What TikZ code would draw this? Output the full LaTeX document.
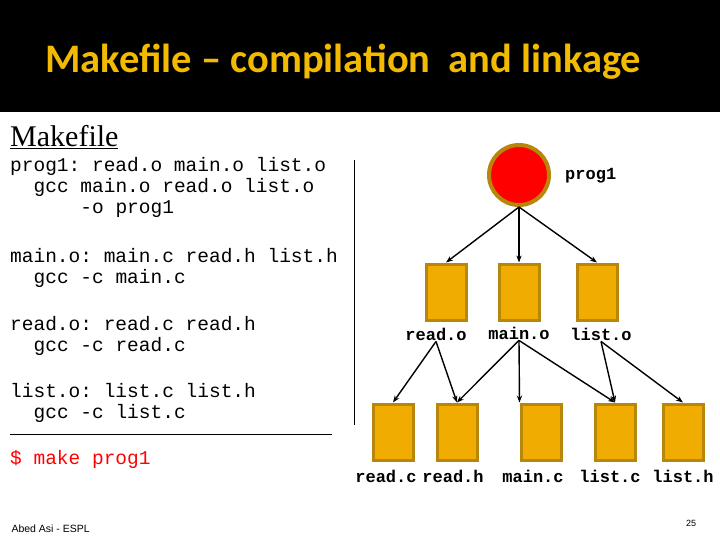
\documentclass[tikz,border=0pt]{standalone}
\usepackage{fontspec}
\setmainfont{Liberation Serif}
\setmonofont{Liberation Mono}
\newfontfamily\titlefont{Carlito}
\newfontfamily\footfont{Liberation Sans}
\usetikzlibrary{arrows.meta}
\definecolor{gold}{RGB}{240,172,0}
\definecolor{rim}{RGB}{184,134,11}
\definecolor{titlegold}{RGB}{242,186,0}
\tikzset{filebox/.style={draw=rim, line width=3pt, fill=gold, minimum width=40pt, minimum height=56pt, inner sep=0pt}}
\tikzset{fname/.style={font=\ttfamily\bfseries\fontsize{17}{19}\selectfont, inner sep=1pt}}
\tikzset{code/.style={font=\ttfamily\fontsize{19.5}{21}\selectfont, anchor=north west, align=left, inner sep=0pt}}
\tikzset{dep/.style={draw, -{Stealth[length=7pt]}, line width=1.4pt}}
\begin{document}
\begin{tikzpicture}[x=1pt, y=-1pt]
	\useasboundingbox (0,0) rectangle (720,540);
	\fill[black] (0,0) rectangle (720,112);
	\node[font=\titlefont\bfseries\fontsize{40.5}{44}\selectfont, text=titlegold, anchor=west] (title) at (42,62) {Makefile \textendash{} compilation\ \ and linkage};
	
	\node[font=\fontsize{30}{32}\selectfont, anchor=west, inner sep=0pt] (mk) at (10,137) {\underline{Makefile}};
	\node[code] (r1) at (10,157) {prog1: read.o main.o list.o\\\ \ gcc main.o read.o list.o\\\ \ \ \ \ \ -o prog1};
	\node[code] (r2) at (10,248) {main.o: main.c read.h list.h\\\ \ gcc -c main.c};
	\node[code] (r3) at (10,316) {read.o: read.c read.h\\\ \ gcc -c read.c};
	\node[code] (r4) at (10,383) {list.o: list.c list.h\\\ \ gcc -c list.c};
	\node[code, text=red] (cmd) at (10,450) {\$ make prog1};
	\draw (354,160) -- (354,425);
	\draw (10,434) -- (332,434);
	
	% tree
	\node[circle, draw=rim, line width=4pt, fill=red, minimum size=60pt] (prog) at (519,175) {};
	\node[fname, anchor=west] (progl) at (564,176) {prog1};
	
	\node[filebox] (ro) at (446,292) {};
	\node[filebox] (mo) at (519,292) {};
	\node[filebox] (lo) at (597,292) {};
	\node[fname] (rol) at (436,334) {read.o};
	\node[fname] (mol) at (519,333) {main.o};
	\node[fname] (lol) at (601,334) {list.o};
	
	\node[filebox] (rc) at (393,432) {};
	\node[filebox] (rh) at (457,432) {};
	\node[filebox] (mc) at (541,432) {};
	\node[filebox] (lc) at (615,432) {};
	\node[filebox] (lh) at (683,432) {};
	\node[fname] (rcl) at (386,476) {read.c};
	\node[fname] (rhl) at (453,476) {read.h};
	\node[fname] (mcl) at (533,476) {main.c};
	\node[fname] (lcl) at (610,476) {list.c};
	\node[fname] (lhl) at (683,476) {list.h};
	
	\draw[dep] (prog.south) -- (ro.north);
	\draw[dep] (prog.south) -- (mo.north);
	\draw[dep] (prog.south) -- (lo.north);
	
	\draw[dep] (rol.south) -- (rc.north);
	\draw[dep] (rol.south) -- (rh.north);
	\draw[dep] (mol.south) -- (rh.north);
	\draw[dep] (mol.south) -- (mc.north west);
	\draw[dep] (mol.south) -- (lc.north);
	\draw[dep] (lol.south) -- (lc.north);
	\draw[dep] (lol.south) -- (lh.north);
	
	\node[font=\footfont\fontsize{10.5}{12}\selectfont, anchor=west] (foot) at (8,529) {Abed Asi - ESPL};
	\node[font=\footfont\fontsize{9}{10}\selectfont] (page) at (691,523) {25};
\end{tikzpicture}
\end{document}
